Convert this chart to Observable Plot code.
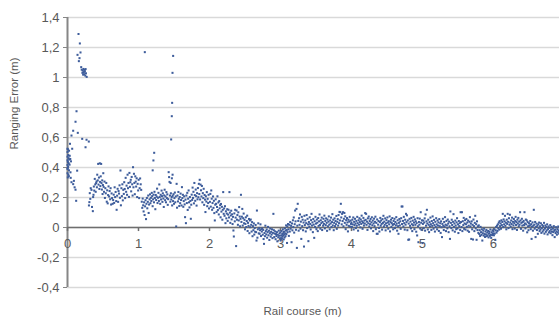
<!DOCTYPE html>
<html>
<head>
<meta charset="utf-8">
<script src="https://cdn.jsdelivr.net/npm/d3@7"></script>
<script src="https://cdn.jsdelivr.net/npm/@observablehq/plot@0.6"></script>
<style>
  html, body { margin: 0; padding: 0; background: #ffffff; }
  #chart { width: 559px; height: 318px; }
</style>
</head>
<body>
<div id="chart"></div>
<script>
const xTitle = "Rail course (m)";
const yTitle = "Ranging Error (m)";
const xTicks = [0, 1, 2, 3, 4, 5, 6];
const yTicks = [-0.4, -0.2, 0, 0.2, 0.4, 0.6, 0.8, 1, 1.2, 1.4];

const startCluster = [[0,0.362],[0,0.391],[0,0.417],[0,0.448],[0,0.472],[0,0.503],[0.005,0.521],[0.005,0.437],[0.009,0.404],[0.011,0.483],[0.012,0.352],[0.015,0.462],[0.017,0.428],[0.021,0.381],[0.022,0.512],[0.026,0.453],[0.029,0.419],[0.031,0.478],[0.035,0.558],[0.039,0.457],[0.042,0.368],[0.045,0.331],[0.049,0.441],[0.004,0.334],[0.019,0.342],[0,0.525],[0.002,0.395]];

const spike = [[0.056,0.613],[0.066,0.525],[0.08,0.645],[0.113,0.705],[0.127,0.775],[0.145,0.631],[0.141,1.151],[0.155,1.29],[0.16,1.109],[0.169,1.129],[0.174,1.227],[0.183,1.167],[0.193,1.069],[0.2,1.052],[0.21,1.031],[0.215,1.046],[0.22,1.019],[0.225,1.057],[0.23,1.036],[0.235,1.022],[0.24,1.051],[0.245,1.041],[0.25,1.013],[0.255,1.056],[0.26,1.028],[0.27,1.004],[0.207,0.591],[0.254,0.535],[0.268,0.585],[0.3,0.573],[0.056,0.302],[0.08,0.289],[0.09,0.311],[0.113,0.252],[0.136,0.379],[0.122,0.178],[0.1,0.268]];

const highOutliers = [[1.089,1.169],[1.488,1.144],[1.479,1.031],[1.474,0.831],[1.469,0.742],[1.46,0.587],[1.221,0.498],[1.21,0.447],[1.2,0.381],[1.47,0.328],[1.48,0.352],[1.452,0.297]];

const band1 = [[0.302,0.147],[0.308,0.169],[0.314,0.229],[0.321,0.191],[0.327,0.262],[0.338,0.251],[0.345,0.137],[0.357,0.109],[0.361,0.203],[0.366,0.218],[0.371,0.273],[0.377,0.246],[0.384,0.324],[0.391,0.287],[0.397,0.238],[0.403,0.296],[0.409,0.307],[0.414,0.268],[0.419,0.352],[0.426,0.314],[0.432,0.424],[0.437,0.286],[0.443,0.333],[0.449,0.257],[0.455,0.428],[0.459,0.304],[0.463,0.276],[0.468,0.341],[0.474,0.424],[0.479,0.296],[0.484,0.253],[0.489,0.314],[0.494,0.223],[0.499,0.283],[0.504,0.362],[0.509,0.271],[0.514,0.238],[0.521,0.306],[0.527,0.197],[0.533,0.262],[0.539,0.228],[0.546,0.297],[0.553,0.172],[0.559,0.248],[0.566,0.161],[0.572,0.216],[0.578,0.274],[0.586,0.207],[0.593,0.243],[0.601,0.188],[0.607,0.262],[0.614,0.153],[0.621,0.227],[0.628,0.196],[0.636,0.158],[0.643,0.183],[0.651,0.219],[0.657,0.164],[0.664,0.268],[0.671,0.203],[0.678,0.237],[0.686,0.176],[0.692,0.118],[0.699,0.212],[0.706,0.258],[0.713,0.171],[0.719,0.243],[0.726,0.226],[0.733,0.281],[0.739,0.198],[0.746,0.38],[0.752,0.148],[0.759,0.262],[0.766,0.209],[0.773,0.288],[0.779,0.181],[0.786,0.251],[0.793,0.224],[0.799,0.302],[0.806,0.257],[0.812,0.196],[0.819,0.331],[0.826,0.238],[0.832,0.279],[0.839,0.218],[0.846,0.352],[0.852,0.262],[0.859,0.297],[0.866,0.204],[0.872,0.364],[0.879,0.271],[0.885,0.302],[0.891,0.318],[0.897,0.241],[0.904,0.337],[0.911,0.288],[0.917,0.213],[0.923,0.402],[0.929,0.268],[0.936,0.358],[0.942,0.297],[0.948,0.222],[0.955,0.341],[0.961,0.306],[0.967,0.273],[0.974,0.328],[0.981,0.203],[0.988,0.291],[0.995,0.247],[1.002,0.318],[1.009,0.196],[1.016,0.262]];

const band2 = [[1.023,0.327],[1.031,0.288],[1.038,0.251],[1.046,0.172],[1.053,0.131],[1.059,0.193],[1.066,0.148],[1.072,0.107],[1.079,0.168],[1.086,0.083],[1.093,0.141],[1.099,0.182],[1.106,0.056],[1.112,0.158],[1.118,0.197],[1.124,0.128],[1.131,0.171],[1.137,0.213],[1.143,0.097],[1.149,0.153],[1.156,0.188],[1.162,0.221],[1.168,0.162],[1.175,0.198],[1.181,0.177],[1.187,0.231],[1.193,0.209],[1.199,0.142],[1.206,0.188],[1.212,0.219],[1.218,0.168],[1.225,0.238],[1.231,0.197],[1.237,0.122],[1.243,0.217],[1.249,0.183],[1.256,0.206],[1.262,0.259],[1.268,0.163],[1.274,0.198],[1.281,0.231],[1.287,0.177],[1.293,0.287],[1.299,0.203],[1.306,0.158],[1.312,0.218],[1.318,0.187],[1.325,0.246],[1.331,0.209],[1.337,0.171],[1.343,0.228],[1.35,0.193],[1.356,0.137],[1.362,0.214],[1.368,0.252],[1.375,0.182],[1.381,0.207],[1.387,0.168],[1.393,0.236],[1.4,0.196],[1.406,0.221],[1.412,0.151],[1.418,0.189],[1.425,0.369],[1.431,0.336],[1.437,0.304],[1.443,0.213],[1.449,0.172],[1.456,0.228],[1.462,0.187],[1.468,0.203],[1.474,0.147],[1.481,0.211],[1.487,0.176],[1.493,0.222],[1.5,0.158],[1.506,0.196],[1.512,0.233],[1.518,0.168],[1.525,0.207],[1.531,0.007],[1.537,0.291],[1.543,0.132],[1.549,0.213],[1.556,0.174],[1.562,0.237],[1.568,0.191],[1.574,0.143],[1.581,0.203],[1.587,0.162],[1.593,0.226],[1.6,0.183],[1.606,0.147],[1.612,0.269],[1.618,0.196],[1.625,0.218],[1.631,0.138],[1.637,0.176],[1.643,0.208],[1.65,0.154],[1.656,0.069],[1.662,0.186],[1.668,0.029],[1.674,0.213],[1.681,0.163],[1.687,0.231],[1.693,0.117],[1.699,0.192],[1.706,0.247],[1.712,0.168],[1.718,0.134],[1.724,0.203],[1.731,0.177],[1.737,0.058],[1.743,0.152],[1.749,0.219],[1.756,0.184],[1.762,0.266],[1.768,0.197],[1.774,0.238],[1.781,0.161],[1.787,0.297],[1.793,0.216],[1.799,0.178],[1.806,0.253],[1.812,0.209],[1.818,0.146],[1.825,0.229],[1.831,0.188],[1.837,0.263],[1.843,0.202],[1.85,0.291],[1.856,0.223],[1.862,0.318],[1.868,0.187],[1.874,0.286],[1.881,0.248],[1.887,0.207],[1.893,0.277],[1.9,0.168],[1.906,0.229],[1.912,0.196],[1.918,0.258],[1.925,0.151],[1.931,0.217],[1.937,0.186],[1.943,0.103],[1.949,0.208],[1.956,0.173],[1.962,0.236],[1.968,0.142],[1.974,0.191],[1.981,0.163],[1.987,0.218],[1.993,0.127]];

const band3 = [[2.006,0.171],[2.012,0.224],[2.018,0.139],[2.025,0.247],[2.031,0.192],[2.037,0.118],[2.043,0.163],[2.05,0.207],[2.056,0.131],[2.062,0.178],[2.068,0.096],[2.075,0.047],[2.081,0.152],[2.087,0.188],[2.093,0.158],[2.1,0.104],[2.106,0.137],[2.112,0.208],[2.118,0.116],[2.125,0.167],[2.131,0.087],[2.137,0.176],[2.143,0.128],[2.15,0.149],[2.156,0.068],[2.162,0.157],[2.168,0.106],[2.175,0.138],[2.181,0.052],[2.187,0.118],[2.193,0.236],[2.2,0.091],[2.206,0.127],[2.212,0.078],[2.218,0.142],[2.225,0.029],[2.231,0.108],[2.237,0.061],[2.243,0.093],[2.25,0.122],[2.256,0.044],[2.262,0.086],[2.268,0.118],[2.275,0.067],[2.281,0.236],[2.287,0.099],[2.293,0.031],[2.3,0.08],[2.306,0.112],[2.312,0.054],[2.318,0.088],[2.325,0.023],[2.331,0.071],[2.337,-0.02],[2.343,-0.06],[2.35,0.094],[2.356,0.041],[2.362,0.118],[2.368,0.066],[2.375,-0.124],[2.381,0.113],[2.387,0.052],[2.393,0.083],[2.4,0.018],[2.406,0.101],[2.412,0.047],[2.418,0.136],[2.425,0.073],[2.431,0.008],[2.437,0.058],[2.443,0.218],[2.45,0.037],[2.456,0.072],[2.462,0.124],[2.468,0.013],[2.475,0.062],[2.481,0.093],[2.487,0.028],[2.493,0.051],[2.5,-0.012],[2.506,0.024],[2.512,0.068],[2.518,0.003],[2.525,0.043],[2.531,0.079],[2.537,-0.023],[2.543,0.031],[2.55,0.011],[2.556,0.057],[2.562,-0.038],[2.568,0.047],[2.575,0.002],[2.581,0.053],[2.587,0.018],[2.593,-0.027],[2.6,0.036],[2.606,-0.058],[2.612,0.009],[2.618,-0.018],[2.625,0.027],[2.631,-0.047],[2.637,-0.004],[2.643,-0.029],[2.65,0.017],[2.656,-0.031],[2.662,-0.087],[2.668,0.113],[2.675,-0.068],[2.681,-0.012],[2.687,0.028],[2.693,-0.039],[2.7,-0.003],[2.706,-0.042],[2.712,-0.018],[2.718,0.021],[2.725,-0.057],[2.731,-0.011],[2.737,-0.027],[2.743,-0.006],[2.75,-0.048],[2.756,-0.016],[2.762,-0.077],[2.768,-0.109],[2.775,-0.037],[2.781,-0.058],[2.787,0.012],[2.793,-0.024],[2.8,-0.046],[2.806,-0.013],[2.812,-0.068],[2.818,-0.031],[2.825,0.004],[2.831,-0.052],[2.837,-0.022],[2.843,-0.083],[2.85,-0.038],[2.856,-0.007],[2.862,-0.061],[2.868,-0.029],[2.875,-0.047],[2.881,-0.012],[2.887,-0.071],[2.893,-0.036],[2.9,0.091],[2.906,-0.018],[2.912,-0.064],[2.918,-0.041],[2.925,-0.026],[2.931,-0.078],[2.937,-0.044],[2.943,-0.057],[2.95,-0.031],[2.956,-0.092],[2.962,-0.048],[2.968,-0.066],[2.975,-0.021],[2.981,-0.055],[2.987,-0.039],[2.993,-0.072]];

const band4 = [[3.0,-0.032],[3.004,-0.087],[3.008,-0.054],[3.012,-0.071],[3.016,-0.023],[3.02,-0.074],[3.025,-0.043],[3.029,-0.061],[3.033,-0.012],[3.037,-0.052],[3.041,-0.036],[3.046,-0.079],[3.05,-0.028],[3.054,-0.047],[3.058,-0.066],[3.062,-0.006],[3.067,-0.039],[3.071,-0.058],[3.075,-0.021],[3.079,0.014],[3.083,-0.044],[3.088,-0.017],[3.092,-0.103],[3.096,0.008],[3.1,-0.031],[3.106,0.023],[3.112,-0.012],[3.118,-0.056],[3.125,0.018],[3.131,-0.027],[3.137,0.036],[3.143,-0.008],[3.15,0.011],[3.156,-0.098],[3.162,0.027],[3.168,-0.019],[3.175,0.048],[3.181,0.003],[3.187,0.067],[3.193,-0.034],[3.2,0.022],[3.206,0.113],[3.212,0.041],[3.218,-0.015],[3.225,0.124],[3.231,-0.136],[3.237,0.012],[3.243,0.158],[3.25,0.044],[3.256,-0.021],[3.262,0.062],[3.268,0.018],[3.275,0.087],[3.281,-0.008],[3.287,0.039],[3.293,-0.076],[3.3,0.071],[3.306,0.009],[3.312,0.052],[3.318,-0.018],[3.325,0.033],[3.331,-0.127],[3.337,0.078],[3.343,0.016],[3.35,0.047],[3.356,-0.026],[3.362,0.029],[3.368,0.083],[3.375,-0.004],[3.381,0.058],[3.387,0.021],[3.393,-0.091],[3.4,0.037],[3.406,0.006],[3.412,0.068],[3.418,0.024],[3.425,-0.013],[3.431,0.049],[3.437,0.091],[3.443,0.013],[3.45,0.034],[3.456,-0.031],[3.462,0.057],[3.468,0.019],[3.475,-0.069],[3.481,0.042],[3.487,0.004],[3.493,0.071],[3.5,0.026],[3.506,-0.011],[3.512,0.053],[3.518,0.032],[3.525,-0.024],[3.531,0.063],[3.537,0.011],[3.543,0.041],[3.55,0.087],[3.556,0.017],[3.562,-0.008],[3.568,0.048],[3.575,0.029],[3.581,0.066],[3.587,-0.017],[3.593,0.037],[3.6,0.012],[3.606,0.058],[3.612,0.024],[3.618,0.079],[3.625,-0.006],[3.631,0.044],[3.637,0.016],[3.643,0.061],[3.65,0.031],[3.656,-0.022],[3.662,0.053],[3.668,0.008],[3.675,0.039],[3.681,0.074],[3.687,0.019],[3.693,-0.012],[3.7,0.047],[3.706,0.027],[3.712,0.066],[3.718,0.003],[3.725,0.036],[3.731,0.089],[3.737,0.014],[3.743,0.052],[3.75,-0.018],[3.756,0.031],[3.762,0.061],[3.768,0.009],[3.775,0.043],[3.781,0.022],[3.787,0.077],[3.793,-0.009],[3.8,0.038],[3.806,0.056],[3.812,0.013],[3.818,0.083],[3.825,0.029],[3.831,0.104],[3.837,0.047],[3.843,0.102],[3.85,0.158],[3.856,0.067],[3.862,0.021],[3.868,0.091],[3.875,0.043],[3.881,0.102],[3.887,0.008],[3.893,0.058],[3.9,0.097],[3.906,0.031],[3.912,0.074],[3.918,-0.011],[3.925,0.049],[3.931,0.018],[3.937,0.063],[3.943,0.034],[3.95,-0.026],[3.956,0.052],[3.962,0.011],[3.968,0.039],[3.975,0.071],[3.981,0.006],[3.987,0.046],[3.993,0.024]];

const band5 = [[4.0,0.033],[4.006,0.004],[4.012,0.052],[4.018,0.021],[4.025,0.067],[4.031,-0.013],[4.037,0.038],[4.043,0.016],[4.05,0.058],[4.056,0.027],[4.062,-0.004],[4.068,0.044],[4.075,0.012],[4.081,0.071],[4.087,0.029],[4.093,-0.021],[4.1,0.048],[4.106,0.019],[4.112,0.062],[4.118,0.036],[4.125,0.001],[4.131,0.053],[4.137,0.024],[4.143,0.079],[4.15,0.041],[4.156,-0.009],[4.162,0.032],[4.168,0.064],[4.175,0.013],[4.181,0.046],[4.187,0.027],[4.193,0.096],[4.2,0.051],[4.206,0.091],[4.212,0.018],[4.218,0.039],[4.225,-0.016],[4.231,0.061],[4.237,0.028],[4.243,0.073],[4.25,0.007],[4.256,0.043],[4.262,0.022],[4.268,0.057],[4.275,-0.006],[4.281,0.034],[4.287,0.068],[4.293,0.015],[4.3,0.046],[4.306,-0.024],[4.312,0.027],[4.318,0.059],[4.325,0.009],[4.331,0.038],[4.337,0.072],[4.343,-0.011],[4.35,0.031],[4.356,-0.042],[4.362,0.054],[4.368,-0.042],[4.375,0.019],[4.381,0.043],[4.387,-0.003],[4.393,-0.027],[4.4,0.036],[4.406,0.064],[4.412,0.012],[4.418,0.047],[4.425,0.024],[4.431,-0.014],[4.437,0.056],[4.443,0.031],[4.45,0.078],[4.456,0.006],[4.462,0.039],[4.468,0.018],[4.475,0.061],[4.481,-0.019],[4.487,0.028],[4.493,0.049],[4.5,0.011],[4.506,0.067],[4.512,0.033],[4.518,-0.008],[4.525,0.042],[4.531,0.021],[4.537,0.074],[4.543,-0.026],[4.55,0.036],[4.556,0.052],[4.562,0.004],[4.568,0.029],[4.575,0.063],[4.581,0.017],[4.587,-0.012],[4.593,0.044],[4.6,0.023],[4.606,0.058],[4.612,-0.004],[4.618,0.037],[4.625,0.014],[4.631,0.069],[4.637,0.026],[4.643,-0.021],[4.65,0.048],[4.656,0.009],[4.662,-0.042],[4.668,0.031],[4.675,0.057],[4.681,0.014],[4.687,0.041],[4.693,-0.009],[4.7,0.062],[4.706,0.14],[4.712,0.023],[4.718,0.14],[4.725,0.044],[4.731,0.007],[4.737,0.071],[4.743,0.029],[4.75,-0.014],[4.756,0.052],[4.762,0.019],[4.768,0.091],[4.775,0.036],[4.781,0.081],[4.787,-0.018],[4.793,0.047],[4.8,-0.082],[4.806,0.026],[4.812,-0.08],[4.818,0.058],[4.825,0.011],[4.831,0.039],[4.837,-0.006],[4.843,0.064],[4.85,0.022],[4.856,-0.024],[4.862,0.046],[4.868,0.015],[4.875,0.071],[4.881,0.033],[4.887,-0.011],[4.893,0.054],[4.9,0.018],[4.906,0.041],[4.912,-0.028],[4.918,0.029],[4.925,-0.053],[4.931,0.062],[4.937,0.008],[4.943,-0.098],[4.95,0.037],[4.956,0.019],[4.962,0.059],[4.968,-0.007],[4.975,0.102],[4.981,0.032],[4.987,-0.016],[4.993,0.048]];

const band6 = [[5.0,-0.104],[5.006,0.024],[5.012,0.046],[5.018,-0.004],[5.025,0.033],[5.031,0.061],[5.037,-0.021],[5.043,0.087],[5.05,0.012],[5.056,0.041],[5.062,0.118],[5.068,0.027],[5.075,-0.013],[5.081,0.052],[5.087,0.018],[5.093,-0.031],[5.1,0.036],[5.106,0.007],[5.112,0.066],[5.118,0.022],[5.125,-0.016],[5.131,0.043],[5.137,0.011],[5.143,0.074],[5.15,0.029],[5.156,-0.008],[5.162,0.051],[5.168,0.016],[5.175,-0.027],[5.181,0.038],[5.187,0.004],[5.193,0.062],[5.2,0.021],[5.206,-0.012],[5.212,0.047],[5.218,0.013],[5.225,0.034],[5.231,-0.023],[5.237,0.056],[5.243,0.009],[5.25,0.028],[5.256,-0.036],[5.262,0.041],[5.268,0.002],[5.275,-0.064],[5.281,0.024],[5.287,0.058],[5.293,0.011],[5.3,-0.017],[5.306,0.037],[5.312,0.006],[5.318,0.069],[5.325,0.019],[5.331,-0.024],[5.337,0.044],[5.343,0.014],[5.35,-0.006],[5.356,0.053],[5.362,0.026],[5.368,-0.031],[5.375,0.039],[5.381,0.008],[5.387,-0.076],[5.393,0.107],[5.4,0.031],[5.406,-0.004],[5.412,0.052],[5.418,0.017],[5.425,-0.019],[5.431,0.038],[5.437,0.089],[5.443,0.004],[5.45,0.027],[5.456,-0.028],[5.462,0.046],[5.468,0.013],[5.475,-0.011],[5.481,0.034],[5.487,0.062],[5.493,-0.006],[5.5,0.021],[5.506,-0.037],[5.512,0.043],[5.518,0.009],[5.525,0.029],[5.531,-0.016],[5.537,0.102],[5.543,0.036],[5.55,0.003],[5.556,0.102],[5.562,-0.024],[5.568,0.042],[5.575,0.016],[5.581,0.064],[5.587,-0.009],[5.593,0.027],[5.6,0.049],[5.606,-0.014],[5.612,0.022],[5.618,0.057],[5.625,0.004],[5.631,0.033],[5.637,-0.021],[5.643,0.046],[5.65,0.012],[5.656,-0.029],[5.662,0.038],[5.668,0.069],[5.675,0.007],[5.681,0.026],[5.687,-0.076],[5.693,0.041],[5.7,-0.012],[5.706,0.018],[5.712,-0.08],[5.718,0.053],[5.725,0.009],[5.731,-0.024],[5.737,0.031],[5.743,0.078],[5.75,-0.006],[5.756,0.022],[5.762,-0.082],[5.768,0.041],[5.775,-0.017],[5.781,0.008],[5.787,-0.036],[5.793,0.014],[5.8,-0.043],[5.806,-0.018],[5.812,-0.057],[5.818,0.004],[5.825,-0.031],[5.831,-0.049],[5.837,-0.012],[5.843,-0.087],[5.85,-0.038],[5.856,-0.021],[5.862,-0.054],[5.868,-0.008],[5.875,-0.044],[5.881,-0.063],[5.887,-0.027],[5.893,-0.047],[5.9,-0.016],[5.906,-0.058],[5.912,-0.034],[5.918,-0.052],[5.925,-0.023],[5.931,-0.066],[5.937,-0.041],[5.943,-0.029],[5.95,-0.056],[5.956,-0.013],[5.962,-0.047],[5.968,-0.069],[5.975,-0.032],[5.981,-0.051],[5.987,-0.019],[5.993,-0.043]];

const band7 = [[6.0,-0.028],[6.006,-0.052],[6.012,-0.011],[6.018,-0.041],[6.025,-0.082],[6.031,-0.019],[6.037,0.004],[6.043,-0.034],[6.05,0.012],[6.056,-0.023],[6.062,0.021],[6.068,-0.006],[6.075,0.033],[6.081,-0.014],[6.087,0.042],[6.093,0.009],[6.1,0.027],[6.106,-0.008],[6.112,0.048],[6.118,0.016],[6.125,0.037],[6.131,0.091],[6.137,0.003],[6.143,0.054],[6.15,0.021],[6.156,0.041],[6.162,0.078],[6.168,0.011],[6.175,0.032],[6.181,-0.012],[6.187,0.052],[6.193,0.024],[6.2,0.091],[6.206,0.038],[6.212,-0.004],[6.218,0.062],[6.225,0.018],[6.231,0.085],[6.237,0.033],[6.243,0.006],[6.25,0.047],[6.256,0.023],[6.262,0.066],[6.268,-0.011],[6.275,0.038],[6.281,0.014],[6.287,0.057],[6.293,0.029],[6.3,-0.007],[6.306,0.043],[6.312,0.071],[6.318,0.017],[6.325,0.036],[6.331,-0.016],[6.337,0.052],[6.343,0.026],[6.35,0.064],[6.356,0.008],[6.362,0.039],[6.368,0.019],[6.375,0.102],[6.381,0.047],[6.387,-0.009],[6.393,0.031],[6.4,0.058],[6.406,0.013],[6.412,0.036],[6.418,-0.021],[6.425,0.044],[6.431,0.016],[6.437,0.102],[6.443,0.027],[6.45,-0.006],[6.456,0.053],[6.462,0.021],[6.468,0.048],[6.475,-0.032],[6.481,0.037],[6.487,0.008],[6.493,-0.018],[6.5,0.029],[6.506,0.012],[6.512,0.014],[6.518,0.043],[6.525,-0.011],[6.531,0.022],[6.537,-0.076],[6.543,0.006],[6.55,0.034],[6.556,-0.021],[6.562,0.012],[6.568,0.118],[6.575,0.019],[6.581,-0.008],[6.587,0.037],[6.593,-0.064],[6.6,0.004],[6.606,0.026],[6.612,-0.017],[6.618,0.011],[6.625,-0.042],[6.631,0.021],[6.637,-0.006],[6.643,0.033],[6.65,-0.024],[6.656,0.008],[6.662,-0.013],[6.668,0.028],[6.675,-0.036],[6.681,-0.004],[6.687,0.017],[6.693,-0.027],[6.7,0.009],[6.706,-0.016],[6.712,0.031],[6.718,-0.041],[6.725,-0.007],[6.731,0.014],[6.737,-0.029],[6.743,0.003],[6.75,-0.019],[6.756,0.021],[6.762,-0.046],[6.768,-0.011],[6.775,0.007],[6.781,-0.033],[6.787,-0.002],[6.793,-0.024],[6.8,0.016],[6.806,-0.038],[6.812,-0.013],[6.818,0.004],[6.825,-0.027],[6.831,-0.051],[6.837,-0.008],[6.843,-0.031],[6.85,0.009],[6.856,-0.022],[6.862,-0.064],[6.868,-0.014],[6.875,-0.037],[6.881,0.002],[6.887,-0.026],[6.893,-0.048],[6.9,-0.011],[6.906,-0.033],[6.912,0.006],[6.918,-0.021],[6.925,-0.042],[6.931,-0.015]];

const points = [...startCluster, ...spike, ...highOutliers, ...band1, ...band2, ...band3, ...band4, ...band5, ...band6, ...band7]
  .map(([x, y]) => ({x, y}));

const fmt = d => String(Math.round(d * 10) / 10).replace(".", ",");
const textColor = "#595959";
const font = "'Liberation Sans', Arial, sans-serif";

const chart = Plot.plot({
  width: 559,
  height: 318,
  marginLeft: 67,
  marginRight: 0,
  marginTop: 17,
  marginBottom: 31,
  x: {domain: [0, 6.93], axis: null},
  y: {domain: [-0.4, 1.4], axis: null},
  style: {fontFamily: font, background: "#ffffff", overflow: "visible"},
  marks: [
    Plot.gridY(yTicks, {stroke: "#d9d9d9", strokeOpacity: 1, strokeWidth: 1.5}),
    Plot.axisY(yTicks, {tickFormat: fmt, tickSize: 4, tickPadding: 4, fontSize: 13, color: textColor, stroke: "#868686", label: null}),
    Plot.ruleX([0], {stroke: "#868686", strokeWidth: 2}),
    Plot.ruleY([0], {stroke: "#6e6e6e", strokeWidth: 1.5}),
    Plot.ruleX(xTicks, {x: d => d, y1: 0, y2: -0.027, stroke: "#6e6e6e", strokeWidth: 1.5}),
    Plot.text(xTicks, {x: d => d, y: 0, dy: 16, text: d => String(d), fontSize: 13, fill: textColor}),
    Plot.dot(points, {x: "x", y: "y", symbol: "square", r: 1.15, fill: "#3d5c9b", stroke: null}),
    Plot.text([xTitle], {frameAnchor: "bottom", dy: 27, dx: -11, text: d => d, fontSize: 11.5, fill: textColor}),
    Plot.text([yTitle], {frameAnchor: "left", dx: -53, dy: -3, rotate: -90, text: d => d, fontSize: 11.5, fill: textColor})
  ]
});
document.getElementById("chart").appendChild(chart);
</script>
</body>
</html>
